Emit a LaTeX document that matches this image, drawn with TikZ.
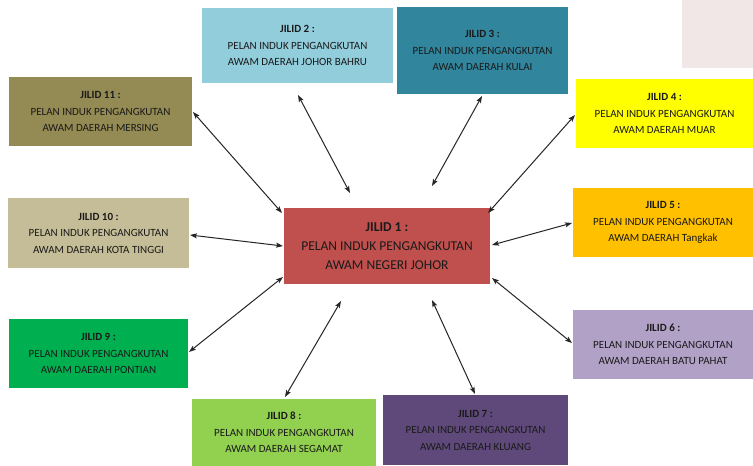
\documentclass[tikz,border=0pt]{standalone}
\usepackage{fontspec}
\setmainfont{Carlito}
\usetikzlibrary{arrows.meta}
\definecolor{cJ1}{HTML}{C0504D}
\definecolor{cJ2}{HTML}{92CDDC}
\definecolor{cJ3}{HTML}{31859C}
\definecolor{cJ4}{HTML}{FFFF00}
\definecolor{cJ5}{HTML}{FFC000}
\definecolor{cJ6}{HTML}{B2A1C7}
\definecolor{cJ7}{HTML}{5F497A}
\definecolor{cJ8}{HTML}{92D050}
\definecolor{cJ9}{HTML}{00B050}
\definecolor{cJ10}{HTML}{C4BD97}
\definecolor{cJ11}{HTML}{948A54}
\definecolor{cPink}{HTML}{F2E7E7}
\definecolor{txt}{HTML}{1A1A1A}
\tikzset{
  box/.style={inner sep=0pt, align=center, text=txt, font=\fontsize{11}{16.5}\selectfont},
  mainbox/.style={box, font=\fontsize{13.5}{19}\selectfont},
  link/.style={{Stealth[length=7pt,width=5pt,inset=1.5pt]}-{Stealth[length=7pt,width=5pt,inset=1.5pt]}, line width=1pt, black!85},
}
\newcommand{\jbox}[7]{% name, color, x1,y1,x2,y2, text
  \fill[#2] (#3,#4) rectangle (#5,#6);
  \node[box] (#1) at ({(#3+#5)/2},{(#4+#6)/2}) {#7};
}
\begin{document}
\begin{tikzpicture}[x=1pt,y=-1pt]
\useasboundingbox (0,0) rectangle (753,466);
\fill[white] (0,0) rectangle (753,466);
\fill[cPink] (682,0) rectangle (753,68);
\jbox{j2}{cJ2}{202}{8}{393}{83}{\textbf{JILID 2 :}\\PELAN INDUK PENGANGKUTAN\\AWAM DAERAH JOHOR BAHRU}
\jbox{j3}{cJ3}{397}{7}{568}{94}{\textbf{JILID 3 :}\\PELAN INDUK PENGANGKUTAN\\AWAM DAERAH KULAI}
\jbox{j4}{cJ4}{576}{79}{753}{148}{\textbf{JILID 4 :}\\PELAN INDUK PENGANGKUTAN\\AWAM DAERAH MUAR}
\jbox{j5}{cJ5}{573}{188}{753}{257}{\textbf{JILID 5 :}\\PELAN INDUK PENGANGKUTAN\\AWAM DAERAH Tangkak}
\jbox{j6}{cJ6}{573}{310}{753}{379}{\textbf{JILID 6 :}\\PELAN INDUK PENGANGKUTAN\\AWAM DAERAH BATU PAHAT}
\jbox{j7}{cJ7}{383}{395}{568}{465}{\textbf{JILID 7 :}\\PELAN INDUK PENGANGKUTAN\\AWAM DAERAH KLUANG}
\jbox{j8}{cJ8}{192}{399}{376}{466}{\textbf{JILID 8 :}\\PELAN INDUK PENGANGKUTAN\\AWAM DAERAH SEGAMAT}
\jbox{j9}{cJ9}{9}{319}{188}{388}{\textbf{JILID 9 :}\\PELAN INDUK PENGANGKUTAN\\AWAM DAERAH PONTIAN}
\jbox{j10}{cJ10}{8}{198}{189}{268}{\textbf{JILID 10 :}\\PELAN INDUK PENGANGKUTAN\\AWAM DAERAH KOTA TINGGI}
\jbox{j11}{cJ11}{9}{77}{192}{146}{\textbf{JILID 11 :}\\PELAN INDUK PENGANGKUTAN\\AWAM DAERAH MERSING}
\fill[cJ1] (284,208) rectangle (490,284);
\node[mainbox] (j1) at (387,246) {\textbf{JILID 1 :}\\PELAN INDUK PENGANGKUTAN\\AWAM NEGERI JOHOR};
% connector end points
\coordinate (a2o) at (298,95);  \coordinate (a2i) at (350,193);
\coordinate (a3o) at (482,96);  \coordinate (a3i) at (432,186);
\coordinate (a4o) at (575,115); \coordinate (a4i) at (488,213);
\coordinate (a5o) at (572,223); \coordinate (a5i) at (492,245);
\coordinate (a6o) at (572,343); \coordinate (a6i) at (492,278);
\coordinate (a7o) at (475,394); \coordinate (a7i) at (432,300);
\coordinate (a8o) at (285,397); \coordinate (a8i) at (341,301);
\coordinate (a9o) at (189,352); \coordinate (a9i) at (283,277);
\coordinate (a10o) at (190,235); \coordinate (a10i) at (283,246);
\coordinate (a11o) at (193,112); \coordinate (a11i) at (282,213);
\foreach \k in {2,...,11} {\draw[link] (a\k o) -- (a\k i);}
\end{tikzpicture}
\end{document}
